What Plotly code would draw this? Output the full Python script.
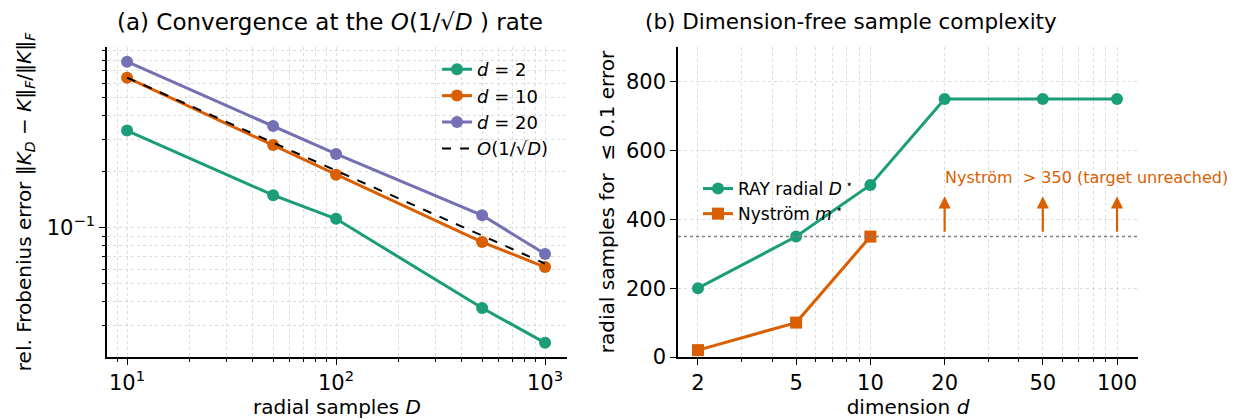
import numpy as np
import plotly.graph_objects as go

# ---------------- data ----------------
D_vals = [10, 50, 100, 500, 1000]
err_d2 = [0.334, 0.150, 0.112, 0.0371, 0.0241]
err_d10 = [0.643, 0.279, 0.193, 0.084, 0.0616]
err_d20 = [0.783, 0.353, 0.250, 0.117, 0.0725]
ref_rate = [0.643, 0.288, 0.203, 0.091, 0.0643]

dims = [2, 5, 10, 20, 50, 100]
ray_D = [200, 350, 500, 750, 750, 750]
nys_dims = [2, 5, 10]
nys_m = [20, 100, 350]
unreached_dims = [20, 50, 100]
target = 350

GREEN = "#1b9e77"
ORANGE = "#d95f02"
PURPLE = "#7570b3"
FONT = "DejaVu Sans"
GRID = "#dcdcdc"

# page body has an 8px margin; map reference pixel coords into figure coords
OFF = 8
W, H = 1233, 412
def px_x(p):
    return (p - OFF) / W
def px_y(p):
    return 1 - (p - OFF) / H

fig = go.Figure()

# ---------------- left panel ----------------
for vals, col, name in [(err_d2, GREEN, "<i>d</i> = 2"),
                        (err_d10, ORANGE, "<i>d</i> = 10"),
                        (err_d20, PURPLE, "<i>d</i> = 20")]:
    fig.add_trace(go.Scatter(x=D_vals, y=vals, mode="lines+markers", name=name,
                             line=dict(color=col, width=3),
                             marker=dict(color=col, size=12, symbol="circle"),
                             xaxis="x", yaxis="y", legend="legend"))
fig.add_trace(go.Scatter(x=D_vals, y=ref_rate, mode="lines", name="<i>O</i>(1/√<i>D</i>)",
                         line=dict(color="black", width=2, dash="dash"),
                         xaxis="x", yaxis="y", legend="legend"))

# ---------------- right panel ----------------
fig.add_trace(go.Scatter(x=dims, y=ray_D, mode="lines+markers", name="RAY radial <i>D</i><sup> ⋆</sup>",
                         line=dict(color=GREEN, width=3),
                         marker=dict(color=GREEN, size=12, symbol="circle"),
                         xaxis="x2", yaxis="y2", legend="legend2"))
fig.add_trace(go.Scatter(x=nys_dims, y=nys_m, mode="lines+markers", name="Nyström <i>m</i><sup> ⋆</sup>",
                         line=dict(color=ORANGE, width=3),
                         marker=dict(color=ORANGE, size=12, symbol="square"),
                         xaxis="x2", yaxis="y2", legend="legend2"))

fig.add_shape(type="line", xref="x2 domain", yref="y2", x0=0, x1=1, y0=target, y1=target,
              line=dict(color="#808080", width=1.5, dash="dot"))

for d in unreached_dims:
    fig.add_annotation(x=np.log10(d), y=467, ax=np.log10(d), ay=360,
                       xref="x2", yref="y2", axref="x2", ayref="y2",
                       text="", showarrow=True, arrowhead=2, arrowsize=1.1,
                       arrowwidth=2.2, arrowcolor=ORANGE)
fig.add_annotation(x=np.log10(unreached_dims[0]), y=522, xref="x2", yref="y2",
                   text="Nyström  > 350 (target unreached)", showarrow=False,
                   xanchor="left", yanchor="middle", xshift=-2,
                   font=dict(family=FONT, size=16, color=ORANGE))

# ---------------- titles ----------------
fig.add_annotation(x=px_x(330), y=px_y(22), xref="paper", yref="paper",
                   text="(a) Convergence at the <i>O</i>(1/√<i>D</i> ) rate", showarrow=False,
                   xanchor="center", yanchor="middle", font=dict(family=FONT, size=23, color="black"))
fig.add_annotation(x=px_x(851), y=px_y(22), xref="paper", yref="paper",
                   text="(b) Dimension-free sample complexity", showarrow=False,
                   xanchor="center", yanchor="middle", font=dict(family=FONT, size=21.5, color="black"))

axis_common = dict(showline=True, linecolor="black", linewidth=1.5, mirror=False,
                   ticks="outside", ticklen=6, tickwidth=1.3, tickcolor="black",
                   showgrid=True, gridcolor=GRID, gridwidth=1, griddash="dot",
                   zeroline=False, automargin=False,
                   tickfont=dict(family=FONT, size=21, color="black"))

left_x_minor = [8, 9, 20, 30, 40, 50, 60, 70, 80, 90, 200, 300, 400, 500, 600, 700, 800, 900]
left_y_minor = [0.03, 0.04, 0.05, 0.06, 0.07, 0.08, 0.09, 0.2, 0.3, 0.4, 0.5, 0.6, 0.7, 0.8, 0.9]
right_x_minor = [3, 4, 6, 7, 8, 9, 30, 40, 60, 70, 80, 90]

minor_style = dict(ticks="outside", ticklen=3.5, tickwidth=1, tickcolor="black",
                   showgrid=True, gridcolor=GRID, gridwidth=1, griddash="dot")

fig.update_layout(
    width=W, height=H,
    margin=dict(l=0, r=0, t=0, b=0),
    paper_bgcolor="white", plot_bgcolor="white",
    font=dict(family=FONT, color="black"),
    xaxis=dict(domain=[px_x(107), px_x(567)], type="log", range=[0.904, 3.105],
               tickvals=[10, 100, 1000], ticktext=["10<sup>1</sup>", "10<sup>2</sup>", "10<sup>3</sup>"],
               minor=dict(tickvals=left_x_minor, **minor_style),
               title=dict(text="radial samples <i>D</i>", font=dict(family=FONT, size=20), standoff=6),
               anchor="y", **axis_common),
    yaxis=dict(domain=[px_y(357), px_y(47)], type="log", range=[-1.694, -0.027],
               tickvals=[0.1], ticktext=["10<sup>−1</sup>"],
               minor=dict(tickvals=left_y_minor, **minor_style),
               title=dict(text="rel. Frobenius error ‖<i>K</i><sub><i>D</i></sub> − <i>K</i>‖<sub><i>F</i></sub>/‖<i>K</i>‖<sub><i>F</i></sub>",
                          font=dict(family=FONT, size=20), standoff=10),
               anchor="x", **axis_common),
    xaxis2=dict(domain=[px_x(678), px_x(1138)], type="log", range=[0.220, 2.085],
                tickvals=dims, ticktext=[str(d) for d in dims],
                minor=dict(tickvals=right_x_minor, **minor_style),
                title=dict(text="dimension <i>d</i>", font=dict(family=FONT, size=20), standoff=6),
                anchor="y2", **axis_common),
    yaxis2=dict(domain=[px_y(357), px_y(47)], range=[0, 901],
                tickvals=[0, 200, 400, 600, 800],
                title=dict(text="radial samples for  ≤ 0.1 error", font=dict(family=FONT, size=20), standoff=6),
                anchor="x2", **axis_common),
    legend=dict(x=px_x(437), y=px_y(51), xanchor="left", yanchor="top",
                bgcolor="rgba(255,255,255,0)", borderwidth=0,
                font=dict(family=FONT, size=18, color="black"), tracegroupgap=0),
    legend2=dict(x=px_x(698), y=px_y(171), xanchor="left", yanchor="top",
                 bgcolor="rgba(255,255,255,0)", borderwidth=0,
                 font=dict(family=FONT, size=17, color="black"), tracegroupgap=0),
    showlegend=True,
)

fig.write_html("out.html")
